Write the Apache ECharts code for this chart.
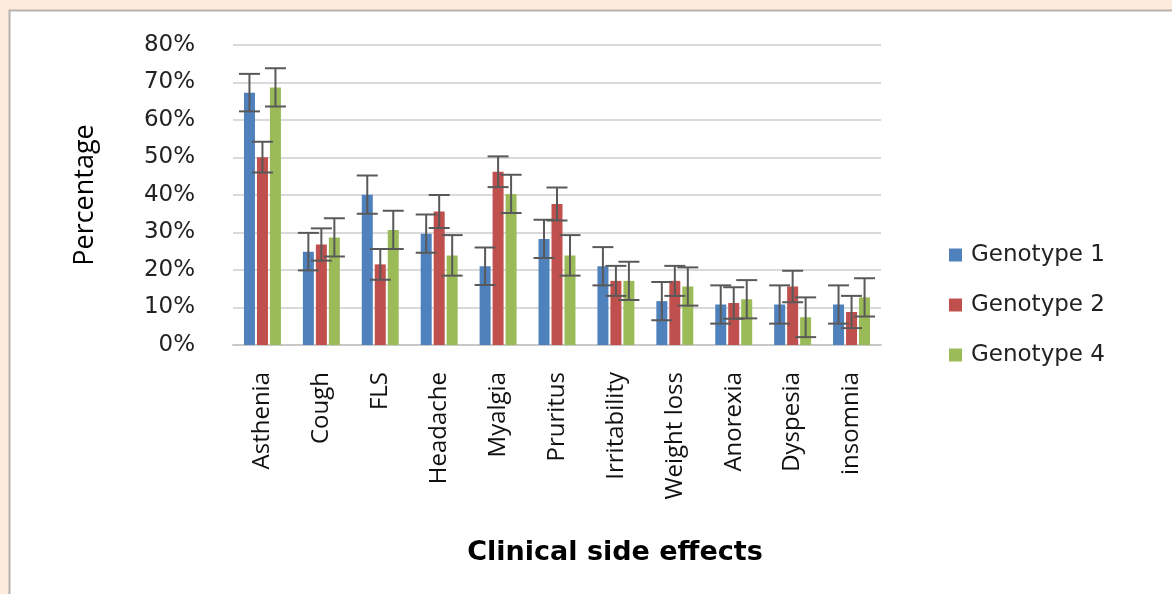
<!DOCTYPE html>
<html>
<head>
<meta charset="utf-8">
<script src="https://cdn.jsdelivr.net/npm/echarts@6/dist/echarts.min.js"></script>
<style>
html,body{margin:0;padding:0;background:#fff;}
#chart{width:1172px;height:594px;}
</style>
</head>
<body>
<div id="chart"></div>
<script>
const categories = ['Asthenia','Cough','FLS','Headache','Myalgia','Pruritus','Irritability','Weight loss','Anorexia','Dyspesia','insomnia'];
const seriesNames = ['Genotype 1','Genotype 2','Genotype 4'];
const genotype1 = [67.3, 24.9, 40.1, 29.7, 21.0, 28.3, 21.0, 11.7, 10.8, 10.8, 10.8];
const genotype2 = [50.1, 26.8, 21.5, 35.6, 46.2, 37.6, 17.1, 17.1, 11.2, 15.6, 8.8];
const genotype4 = [68.7, 28.7, 30.7, 23.9, 40.3, 23.9, 17.1, 15.6, 12.2, 7.4, 12.7];
const error1 = [5.0, 5.0, 5.1, 5.1, 5.0, 5.1, 5.1, 5.1, 5.1, 5.1, 5.1];
const error2 = [4.1, 4.3, 4.1, 4.4, 4.1, 4.4, 4.0, 4.0, 4.2, 4.2, 4.3];
const error4 = [5.1, 5.1, 5.1, 5.4, 5.1, 5.4, 5.1, 5.1, 5.1, 5.3, 5.1];
const yTicks = [0, 10, 20, 30, 40, 50, 60, 70, 80];

const colors = ['#4f81bd', '#c0504d', '#9bbb59'];
const values = [genotype1, genotype2, genotype4];
const errors = [error1, error2, error4];
const BAR_W = 11, GAP = 2;

const chart = echarts.init(document.getElementById('chart'));

function errSeries(idx) {
  const data = categories.map((c, i) => [i, values[idx][i] - errors[idx][i], values[idx][i] + errors[idx][i]]);
  return {
    type: 'custom',
    name: seriesNames[idx] + ' error',
    z: 5,
    data: data,
    renderItem: function (params, api) {
      const x = api.value(0);
      const lo = api.coord([x, api.value(1)]);
      const hi = api.coord([x, api.value(2)]);
      const off = (idx - 1) * (BAR_W + GAP);
      const cx = lo[0] + off;
      const half = 10.5;
      const st = { stroke: '#595959', lineWidth: 2 };
      return {
        type: 'group',
        children: [
          { type: 'line', shape: { x1: cx, y1: hi[1], x2: cx, y2: lo[1] }, style: st },
          { type: 'line', shape: { x1: cx - half, y1: hi[1], x2: cx + half, y2: hi[1] }, style: st },
          { type: 'line', shape: { x1: cx - half, y1: lo[1], x2: cx + half, y2: lo[1] }, style: st }
        ]
      };
    }
  };
}

const option = {
  animation: false,
  backgroundColor: '#ffffff',
  color: colors,
  graphic: [
    { type: 'rect', z: -20, silent: true, shape: { x: 0, y: 0, width: 1172, height: 594 }, style: { fill: '#fdecde' } },
    { type: 'rect', z: -19, silent: true, shape: { x: 9.5, y: 10.5, width: 1200, height: 640 }, style: { fill: '#ffffff', stroke: '#b8b2ae', lineWidth: 2 } },
    { type: 'text', z: 10, silent: true, style: { x: 615, y: 553, text: 'Clinical side effects', align: 'center', verticalAlign: 'middle', font: 'bold 27px "DejaVu Sans", sans-serif', fill: '#000' } }
  ],
  legend: {
    orient: 'vertical',
    left: 944,
    top: 238,
    itemWidth: 13,
    itemHeight: 13,
    itemGap: 26,
    icon: 'rect',
    data: seriesNames,
    textStyle: { fontFamily: 'DejaVu Sans', fontSize: 23, lineHeight: 24, color: '#222', padding: [0, 0, 0, 4] }
  },
  grid: { left: 233, right: 291, top: 45, bottom: 249, containLabel: false },
  xAxis: {
    type: 'category',
    data: categories,
    axisLine: { lineStyle: { color: '#c8c8c8', width: 2 } },
    axisTick: { show: false },
    axisLabel: { rotate: 90, margin: 27, fontFamily: 'Open Sans', fontSize: 24, color: '#111', interval: 0 }
  },
  yAxis: {
    type: 'value',
    min: 0, max: 80, interval: 10,
    name: 'Percentage',
    nameLocation: 'middle',
    nameRotate: 90,
    nameGap: 134,
    nameTextStyle: { fontFamily: 'Open Sans', fontSize: 27, color: '#000' },
    axisLine: { show: false },
    axisTick: { show: false },
    axisLabel: { margin: 38, fontFamily: 'DejaVu Sans', fontSize: 23, color: '#222', formatter: v => (yTicks.includes(v) ? v + '%' : '') },
    splitLine: { lineStyle: { color: '#dadada', width: 2 } }
  },
  series: [
    { type: 'bar', name: seriesNames[0], data: genotype1, barWidth: BAR_W, barGap: '18%' },
    { type: 'bar', name: seriesNames[1], data: genotype2, barWidth: BAR_W, barGap: '18%' },
    { type: 'bar', name: seriesNames[2], data: genotype4, barWidth: BAR_W, barGap: '18%' },
    errSeries(0), errSeries(1), errSeries(2)
  ]
};
chart.setOption(option);
</script>
</body>
</html>
